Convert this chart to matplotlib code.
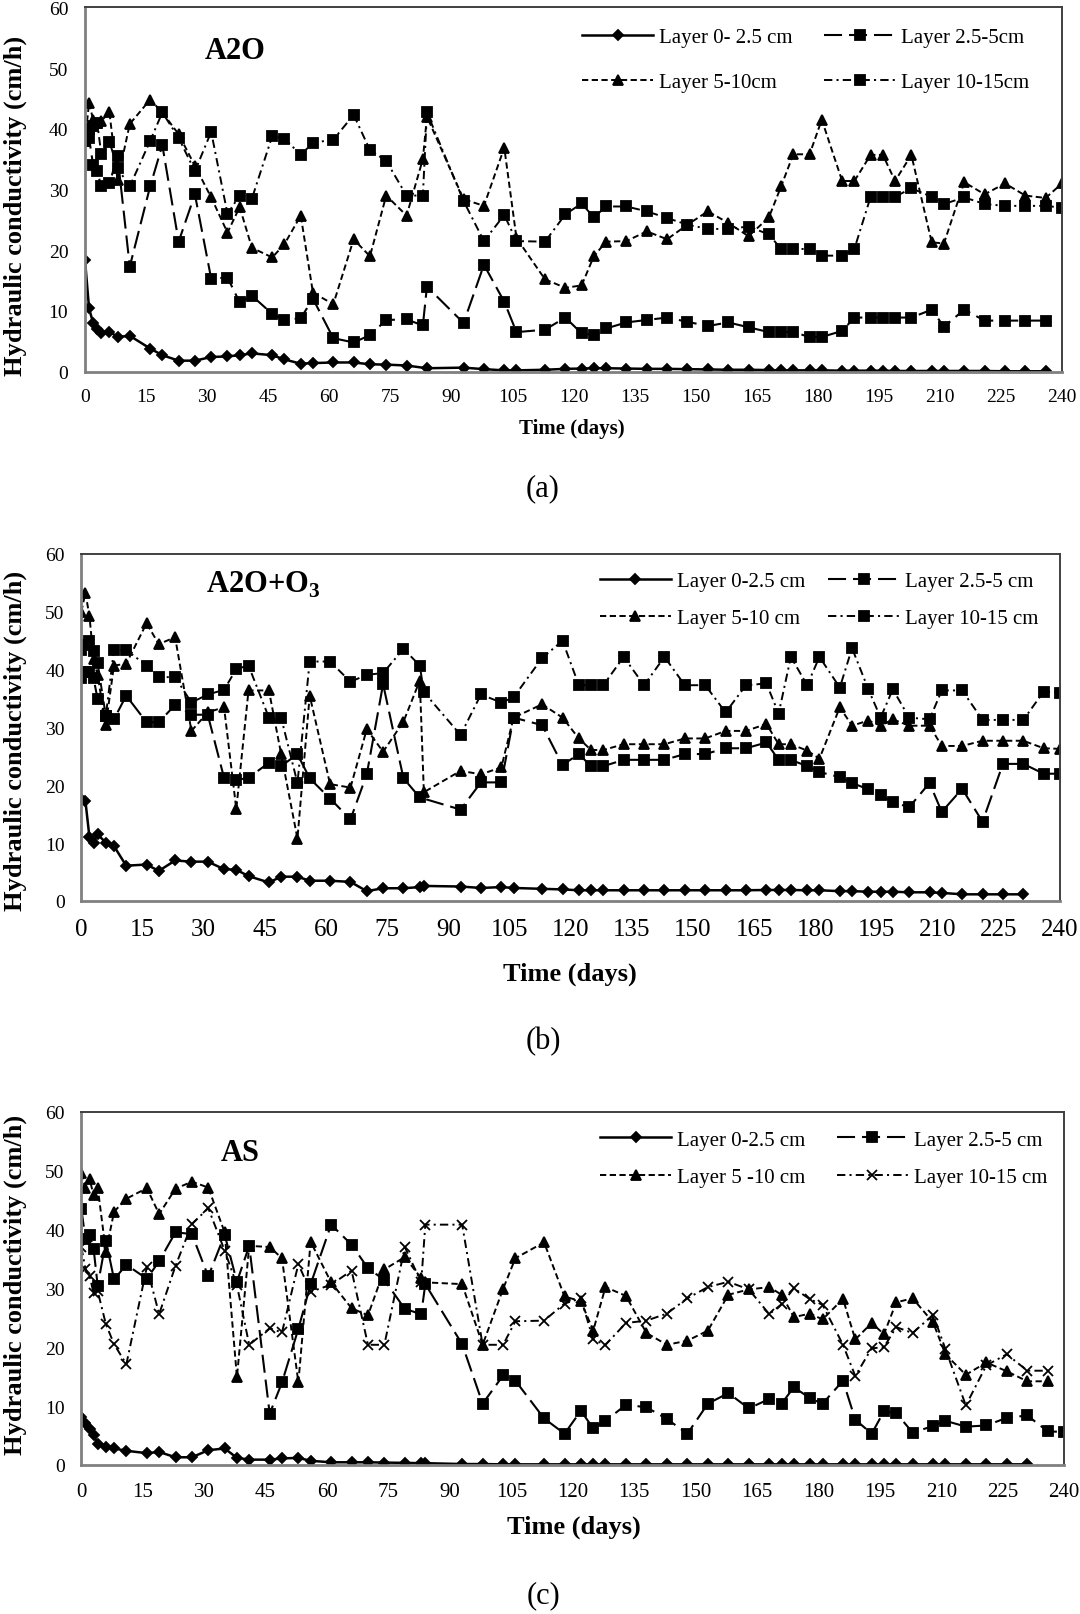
import numpy as np
import matplotlib
matplotlib.use("Agg")
import matplotlib.pyplot as plt

plt.rcParams['font.family'] = ['Liberation Serif', 'DejaVu Serif']
plt.rcParams['mathtext.fontset'] = 'custom'
plt.rcParams['mathtext.rm'] = 'Liberation Serif'
plt.rcParams['mathtext.bf'] = 'Liberation Serif:bold'
plt.rcParams['lines.scale_dashes'] = False

nan = np.nan

# sampling days (shared by all panels)
days = [0, 1, 2, 3, 4, 6, 8, 11, 16, 19, 23, 27, 31, 35, 38, 41, 46, 49, 53, 56,
        61, 66, 70, 74, 79, 83, 84, 93, 98, 103, 106, 113, 118, 122, 125, 128,
        133, 138, 143, 148, 153, 158, 163, 168, 171, 174, 178, 181, 186, 189,
        193, 196, 199, 203, 208, 211, 216, 221, 226, 231, 236, 240]

# ---- (a) A2O ----
a_l1 = [18.4, 10.4, 8.0, 7.0, 6.4, 6.6, 5.7, 5.9, 3.8, 2.7, 1.8, 1.8, 2.4, 2.5, 2.7, 3.0,
        2.7, 2.0, 1.3, 1.4, 1.5, 1.5, 1.2, 1.15, 1.0, nan, 0.55, 0.65, 0.4, 0.2, 0.2, 0.3,
        0.45, 0.5, 0.55, 0.55, 0.5, 0.45, 0.45, 0.4, 0.35, 0.3, 0.3, 0.25, 0.2, 0.2, 0.2,
        0.2, 0.15, 0.15, 0.15, 0.15, 0.1, 0.1, 0.1, 0.1, 0.1, 0.1, 0.05, 0.05, 0.05, nan]
a_l2 = [39.5, 38.5, 34.0, 33.0, 30.5, 31.0, 35.5, 17.3, 30.5, 37.3, 21.4, 29.2, 15.3, 15.5,
        11.4, 12.5, 9.5, 8.5, 8.8, 12.0, 5.5, 4.8, 6.0, 8.5, 8.6, 7.6, 14.0, 8.0, 17.6, 11.5,
        6.5, 6.9, 8.9, 6.3, 6.0, 7.1, 8.1, 8.5, 8.9, 8.2, 7.5, 8.1, 7.3, 6.5, 6.5, 6.5, 5.7,
        5.7, 6.7, 8.9, 8.9, 8.9, 8.9, 8.9, 10.2, 7.4, 10.2, 8.4, 8.4, 8.4, 8.4, nan]
a_l3 = [38.0, 44.3, 41.5, 41.0, 41.3, 42.7, 31.5, 40.8, 44.8, 42.7, 39.1, 33.9, 28.7, 22.9,
        27.1, 20.4, 18.8, 21.0, 25.7, 13.0, 11.1, 21.8, 19.0, 29.0, 25.7, 35.0, 42.0, 28.4,
        27.3, 36.9, 22.0, 15.2, 13.8, 14.2, 19.0, 21.4, 21.5, 23.1, 21.8, 24.2, 26.4, 24.5,
        22.3, 25.4, 30.5, 35.8, 35.8, 41.5, 31.4, 31.4, 35.7, 35.7, 31.4, 35.7, 21.3, 21.1,
        31.2, 29.2, 31.0, 29.0, 28.6, 31.0]
a_l4 = [38.0, 40.0, 40.5, 41.0, 35.8, 37.9, 33.5, 30.5, 38.0, 42.7, 38.5, 33.0, 39.5, 26.0,
        29.0, 28.5, 38.8, 38.4, 35.7, 37.7, 38.2, 42.3, 36.5, 34.7, 29.0, 29.0, 42.7, 28.1,
        21.5, 25.8, 21.5, 21.4, 25.9, 27.7, 25.4, 27.2, 27.2, 26.4, 25.3, 24.2, 23.5, 23.5,
        23.9, 22.6, 20.2, 20.2, 20.2, 19.1, 19.1, 20.2, 28.8, 28.8, 28.8, 30.2, 28.8, 27.6,
        28.7, 27.6, 27.3, 27.3, 27.3, 27.0]

# ---- (b) A2O+O3 ----
b_l1 = [17.7, 17.3, 11.0, 10.1, 11.5, 10.1, 9.5, 6.1, 6.3, 5.2, 7.0, 6.8, 6.8, 5.5, 5.4, 4.3,
        3.2, 4.2, 4.2, 3.5, 3.5, 3.3, 1.7, 2.2, 2.2, 2.4, 2.6, 2.5, 2.25, 2.4, 2.25, 2.1, 2.0,
        1.85, 1.85, 1.85, 1.85, 1.85, 1.85, 1.85, 1.85, 1.85, 1.85, 1.9, 1.9, 1.9, 1.85, 1.85,
        1.7, 1.7, 1.6, 1.6, 1.6, 1.5, 1.5, 1.4, 1.15, 1.15, 1.15, 1.15, nan, nan]
b_l2 = [38.5, 39.5, 39.5, 38.5, 34.9, 32.0, 31.4, 35.5, 30.9, 30.9, 33.9, 32.2, 32.2, 21.3,
        20.9, 21.3, 23.9, 23.3, 25.4, 21.2, 17.7, 14.1, 21.9, 37.5, 21.2, 17.9, nan, 15.8,
        20.5, 20.5, 31.7, 30.4, 23.5, 25.4, 23.3, 23.3, 24.4, 24.4, 24.4, 25.4, 25.4, 26.4,
        26.4, 27.4, 24.4, 24.4, 23.3, 22.3, 21.4, 20.4, 19.3, 18.3, 17.1, 16.2, 20.4, 15.4,
        19.4, 13.7, 23.7, 23.7, 22.0, 22.0]
b_l3 = [50.0, 53.3, 49.2, 41.8, 39.0, 30.4, 40.7, 41.0, 48.0, 44.4, 45.6, 29.4, 32.6, 33.5,
        15.9, 36.4, 36.4, 25.4, 10.8, 35.5, 20.2, 19.6, 29.7, 25.8, 31.0, 38.1, 18.8, 22.5,
        21.9, 23.1, 31.7, 34.0, 31.7, 28.1, 26.1, 26.1, 27.1, 27.1, 27.1, 28.1, 28.1, 29.4,
        29.4, 30.6, 27.1, 27.1, 26.0, 24.6, 33.5, 30.3, 31.2, 30.3, 31.4, 30.3, 30.3, 26.8,
        26.8, 27.7, 27.7, 27.7, 26.4, 26.3]
b_l4 = [43.4, 44.3, 45.0, 43.3, 41.1, 32.0, 43.4, 43.4, 40.7, 38.7, 38.7, 34.3, 35.7, 36.5,
        40.1, 40.7, 31.7, 31.7, 20.4, 41.4, 41.4, 37.9, 39.1, 39.4, 43.6, 40.7, 36.1, 28.7,
        35.7, 34.3, 35.2, 42.0, 45.0, 37.3, 37.3, 37.3, 42.2, 37.3, 42.2, 37.3, 37.3, 32.6,
        37.3, 37.6, 32.4, 42.2, 37.3, 42.2, 36.9, 43.7, 36.6, 31.7, 36.6, 31.7, 31.4, 36.4,
        36.4, 31.3, 31.3, 31.3, 36.2, 36.0]

# ---- (c) AS ----
c_l1 = [8.1, 7.2, 6.1, 5.0, 3.6, 3.0, 2.8, 2.4, 2.0, 2.2, 1.3, 1.3, 2.5, 2.8, 1.2, 0.9, 0.9,
        1.1, 1.2, 0.7, 0.45, 0.45, 0.45, 0.4, 0.35, 0.3, 0.3, 0.15, 0.15, 0.1, 0.1, 0.1, 0.1,
        0.1, 0.1, 0.1, 0.1, 0.1, 0.1, 0.1, 0.1, 0.1, 0.1, 0.1, 0.1, 0.1, 0.1, 0.1, 0.1, 0.1,
        0.1, 0.1, 0.1, 0.1, 0.1, 0.1, 0.1, 0.1, 0.1, 0.1, nan, nan]
c_l2 = [43.5, 38.4, 39.0, 36.7, 30.4, 38.1, 31.5, 34.0, 31.6, 34.6, 39.5, 39.2, 32.0, 39.1,
        31.1, 37.2, 8.7, 14.0, 23.1, 30.7, 40.8, 37.4, 33.4, 31.4, 26.5, 25.6, 30.7, 20.5,
        10.4, 15.2, 14.3, 7.9, 5.3, 9.2, 6.2, 7.5, 10.2, 9.8, 7.8, 5.3, 10.4, 12.2, 9.6, 11.2,
        10.4, 13.2, 11.3, 10.4, 14.3, 7.7, 5.3, 9.1, 8.8, 5.5, 6.6, 7.5, 6.5, 6.7, 8.0, 8.4,
        5.7, 5.6]
c_l3 = [49.5, 47.1, 48.6, 45.8, 47.1, 36.2, 43.0, 45.2, 47.0, 42.6, 46.9, 48.1, 47.1, 39.5,
        14.9, 37.2, 37.0, 35.1, 14.0, 37.9, 31.0, 26.6, 25.4, 33.2, 35.3, 31.7, 31.0, 30.7,
        20.4, 29.9, 35.1, 37.8, 28.6, 27.8, 22.8, 30.2, 28.7, 22.4, 20.4, 21.1, 22.8, 28.9,
        29.8, 30.2, 28.9, 25.1, 25.7, 24.7, 28.2, 21.3, 24.1, 22.2, 27.6, 28.3, 24.2, 18.8,
        15.3, 17.4, 15.9, 14.2, 14.2, nan]
c_l4 = [37.0, 33.3, 32.1, 29.2, 29.5, 23.9, 20.5, 17.1, 33.6, 25.6, 33.8, 40.9, 43.6, 36.4,
        30.5, 20.4, 23.2, 22.5, 34.1, 29.4, 30.6, 33.0, 20.4, 20.4, 37.0, 31.0, 40.8, 40.8,
        20.4, 20.4, 24.4, 24.5, 27.4, 28.3, 21.3, 20.4, 24.1, 24.5, 25.7, 28.3, 30.2, 31.1,
        29.8, 25.6, 27.3, 30.0, 28.1, 27.2, 20.4, 15.1, 19.8, 20.0, 23.4, 22.4, 25.5, 19.7,
        10.1, 16.9, 18.8, 16.0, 16.0, nan]

x_ticks = list(range(0, 241, 15))
y_ticks = list(range(0, 61, 10))

panels = [
    dict(rect=[0.0787, 0.7693, 0.9046, 0.2255], series=[a_l1, a_l2, a_l3, a_l4],
         labels=['Layer 0- 2.5 cm', 'Layer 2.5-5cm', 'Layer 5-10cm', 'Layer 10-15cm'],
         title='A2O', title_xy=(29.5, 52.9), last_marker='s',
         xtick_fs=14, ytick_fs=14, leg_xy=(0.509, 0.944), leg_sp=1.2, leg_col=1.5,
         xlabel_xy=(572, 429), xlabel_fs=15, ylabel_y=206, tag='(a)', tag_y=489),
    dict(rect=[0.0753, 0.4415, 0.9062, 0.2149], series=[b_l1, b_l2, b_l3, b_l4],
         labels=['Layer 0-2.5 cm', 'Layer 2.5-5 cm', 'Layer 5-10 cm', 'Layer 10-15 cm'],
         title=r'A2O+O$_\mathbf{3}$', title_xy=(30.5, 54.8), last_marker='s',
         xtick_fs=18, ytick_fs=14, leg_xy=(0.530, 0.950), leg_sp=0.85, leg_col=1.1,
         xlabel_xy=(570, 974), xlabel_fs=19, ylabel_y=741, tag='(b)', tag_y=1042),
    dict(rect=[0.0753, 0.0923, 0.9100, 0.2188], series=[c_l1, c_l2, c_l3, c_l4],
         labels=['Layer 0-2.5 cm', 'Layer 2.5-5 cm', 'Layer 5 -10 cm', 'Layer 10-15 cm'],
         title='AS', title_xy=(34.0, 53.1), last_marker='x',
         xtick_fs=15, ytick_fs=14, leg_xy=(0.528, 0.948), leg_sp=0.85, leg_col=1.5,
         xlabel_xy=(574, 1527), xlabel_fs=19, ylabel_y=1285, tag='(c)', tag_y=1596),
]

W, H = 1080, 1615
fig = plt.figure(figsize=(W / 100, H / 100), dpi=100)

for p in panels:
    ax = fig.add_axes(p['rect'])
    d = np.array(days, dtype=float)
    styles = [
        dict(ls='-', marker='D', ms=5.5, lw=1.8),
        dict(ls=(0, (13, 5)), marker='s', ms=7, lw=1.5),
        dict(ls=(0, (4.5, 2.5)), marker='^', ms=7, lw=1.4),
        dict(ls=(0, (6, 3, 1.5, 3)), marker=p['last_marker'],
             ms=7 if p['last_marker'] == 's' else 7.5, lw=1.4),
    ]
    lines = []
    for vals, st, lab in zip(p['series'], styles, p['labels']):
        v = np.array(vals, dtype=float)
        m = ~np.isnan(v)
        ln, = ax.plot(d[m], v[m], color='black', linestyle=st['ls'], lw=st['lw'],
                      marker=st['marker'], ms=st['ms'], mew=1.3, label=lab)
        lines.append(ln)

    ax.set_xlim(0, 240)
    ax.set_ylim(0, 60)
    ax.set_xticks(x_ticks)
    ax.set_yticks(y_ticks)
    ax.tick_params(axis='x', length=0, pad=12, labelsize=p['xtick_fs'])
    ax.tick_params(axis='y', length=0, pad=12, labelsize=p['ytick_fs'])
    for s in ['left', 'bottom']:
        ax.spines[s].set_color('#808080')
        ax.spines[s].set_linewidth(2.0)
    for s in ['top', 'right']:
        ax.spines[s].set_color('#404040')
        ax.spines[s].set_linewidth(1.4)

    ax.text(p['title_xy'][0], p['title_xy'][1], p['title'], fontsize=22,
            fontweight='bold', va='center', ha='left')

    order = [0, 2, 1, 3]
    ax.legend([lines[i] for i in order], [p['labels'][i] for i in order], ncol=2,
              loc='upper left', bbox_to_anchor=p['leg_xy'], frameon=False, fontsize=15,
              handlelength=3.4, handletextpad=0.3, columnspacing=p['leg_col'],
              labelspacing=p['leg_sp'], borderpad=0, borderaxespad=0)

    fig.text(p['xlabel_xy'][0] / W, 1 - p['xlabel_xy'][1] / H, 'Time (days)',
             fontsize=p['xlabel_fs'], fontweight='bold', ha='center', va='center')
    fig.text(15.5 / W, 1 - p['ylabel_y'] / H, 'Hydraulic conductivity (cm/h)',
             fontsize=19, fontweight='bold', rotation=90, ha='center', va='center')
    fig.text(543 / W, 1 - p['tag_y'] / H, p['tag'], fontsize=22, ha='center', va='center')

fig.savefig('out.png', dpi=100)
